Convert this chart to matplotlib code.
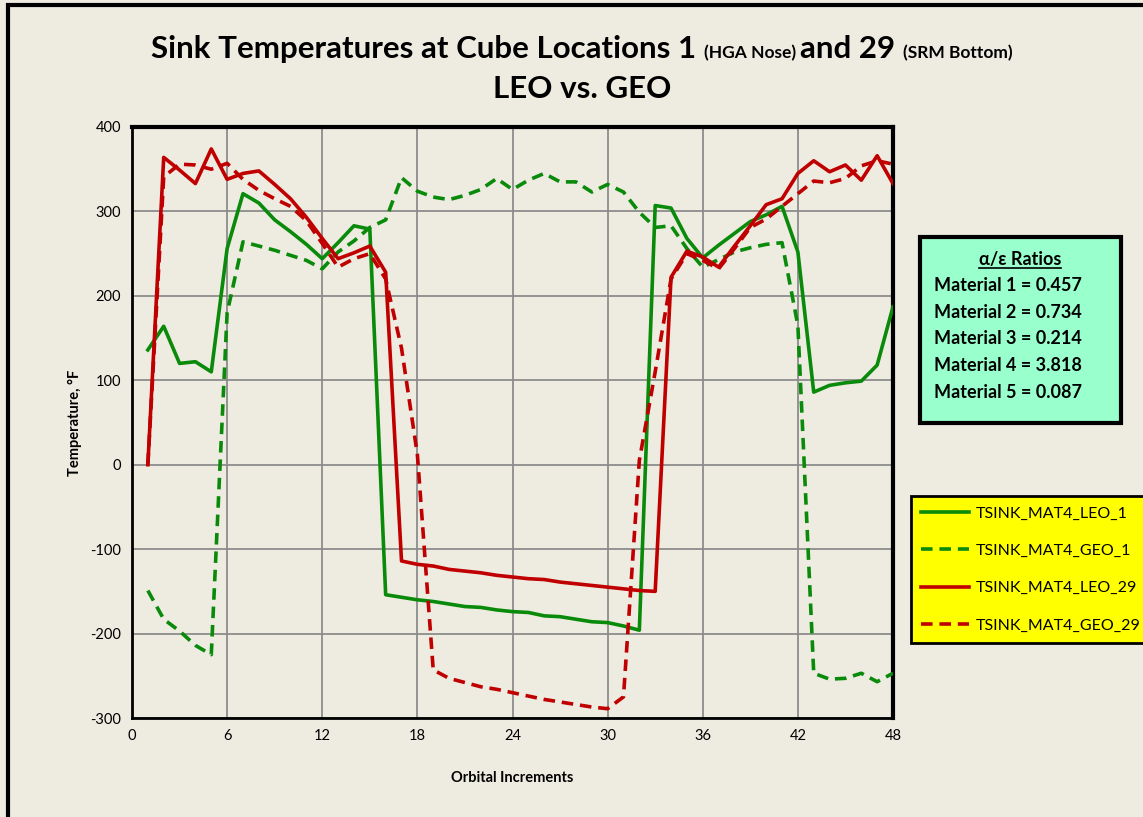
import numpy as np
import matplotlib
matplotlib.use('Agg')
import matplotlib.pyplot as plt
from matplotlib.patches import Rectangle
from matplotlib.lines import Line2D

plt.rcParams['font.family'] = ['Lato', 'DejaVu Sans']
plt.rcParams['axes.unicode_minus'] = False

# orbital increments and sink temperatures (deg F)
increments = np.arange(1, 49)
leo_1 = [136, 164, 120, 122, 110, 256, 321, 310, 290, 276, 261, 244, 263, 283, 279, -154,
         -157, -160, -162, -165, -168, -169, -172, -174, -175, -179, -180, -183, -186, -187, -191, -196,
         307, 304, 268, 245, 260, 274, 288, 296, 306, 252, 86, 94, 97, 99, 118, 187]
geo_1 = [-149, -183, -197, -214, -225, 180, 264, 259, 254, 248, 242, 232, 252, 265, 281, 290,
         340, 324, 317, 314, 319, 326, 339, 326, 337, 345, 335, 335, 323, 332, 323, 299,
         281, 283, 256, 234, 243, 252, 257, 261, 263, 165, -247, -254, -253, -247, -257, -247]
leo_29 = [0, 364, 349, 333, 374, 338, 345, 348, 332, 315, 293, 268, 244, 251, 259, 228,
          -114, -118, -120, -124, -126, -128, -131, -133, -135, -136, -139, -141, -143, -145, -147, -149,
          -150, 222, 253, 246, 234, 259, 283, 308, 315, 345, 360, 347, 355, 337, 366, 333]
geo_29 = [0, 341, 356, 355, 350, 357, 338, 325, 315, 306, 289, 262, 234, 244, 250, 220,
          138, 12, -243, -253, -258, -263, -266, -270, -274, -278, -281, -284, -287, -289, -275, 5,
          110, 220, 250, 242, 232, 256, 281, 291, 306, 321, 336, 334, 339, 354, 360, 356]

series_names = ['TSINK_MAT4_LEO_1', 'TSINK_MAT4_GEO_1', 'TSINK_MAT4_LEO_29', 'TSINK_MAT4_GEO_29']
ratio_labels = ['Material 1 = 0.457', 'Material 2 = 0.734', 'Material 3 = 0.214',
                'Material 4 = 3.818', 'Material 5 = 0.087']

W, H = 1143, 817
bg = '#EEECE1'
green = '#0A8A0A'
red = '#C00000'

fig = plt.figure(figsize=(W / 100, H / 100), dpi=100, facecolor=bg)
ax = fig.add_axes([132 / W, 1 - 718 / H, (893 - 132) / W, (718 - 127) / H])
ax.set_facecolor(bg)

lw = 2.6
dash = (3.2, 1.9)
ax.plot(increments, leo_1, color=green, lw=lw, label=series_names[0], zorder=3)
ax.plot(increments, geo_1, color=green, lw=lw, dashes=dash, label=series_names[1], zorder=3)
ax.plot(increments, leo_29, color=red, lw=lw, label=series_names[2], zorder=4)
ax.plot(increments, geo_29, color=red, lw=lw, dashes=dash, label=series_names[3], zorder=4)

ax.set_xlim(0, 48)
ax.set_ylim(-300, 400)
ax.set_xticks(np.arange(0, 49, 6))
ax.set_yticks(np.arange(-300, 401, 100))
ax.grid(True, color='#8C8C8C', lw=1.3, zorder=0)
ax.set_axisbelow(True)
ax.tick_params(length=0, labelsize=10.5, pad=8, colors='black')
for s in ax.spines.values():
    s.set_color('black')
    s.set_linewidth(2)
ax.spines['top'].set_linewidth(3)
ax.spines['right'].set_linewidth(3)

ax.set_xlabel('Orbital Increments', fontsize=10.5, fontweight='bold', labelpad=20)
ax.set_ylabel('Temperature, °F', fontsize=10.5, fontweight='bold', labelpad=6)

# outer chart border
fig.patches.append(Rectangle((8 / W, -0.02), 1.05, 1 - 5 / H + 0.02, transform=fig.transFigure,
                             fill=False, edgecolor='black', lw=3))

# title with mixed font sizes
renderer = fig.canvas.get_renderer()
pieces = [('Sink Temperatures at Cube Locations 1 ', 22.5), ('(HGA Nose) ', 12.5),
          ('and 29 ', 22.5), ('(SRM Bottom)', 12.5)]
texts = []
for s, fs in pieces:
    t = fig.text(0, 1 - 58 / H, s, fontsize=fs, fontweight='bold', ha='left', va='baseline')
    texts.append(t)
widths = [t.get_window_extent(renderer).width for t in texts]
x0 = 582 - sum(widths) / 2
for t, w in zip(texts, widths):
    t.set_x(x0 / W)
    x0 += w
fig.text(582 / W, 1 - 98 / H, 'LEO vs. GEO', fontsize=22.5, fontweight='bold',
         ha='center', va='baseline')

# alpha/epsilon ratio box
fig.patches.append(Rectangle((920 / W, 1 - 423 / H), 201 / W, 186 / H, transform=fig.transFigure,
                             facecolor='#99FFCC', edgecolor='black', lw=3, zorder=5))
ht = fig.text(1020 / W, 1 - 265 / H, 'α/ε Ratios', fontsize=13, fontweight='bold',
              ha='center', va='baseline', zorder=6)
bb = ht.get_window_extent(renderer)
fig.lines.append(Line2D([bb.x0 / W, bb.x1 / W], [(H - 268) / H] * 2, transform=fig.transFigure,
                        color='black', lw=1.2, zorder=6))
for i, s in enumerate(ratio_labels):
    fig.text(934 / W, 1 - (291 + i * 26.7) / H, s, fontsize=13, fontweight='bold',
             ha='left', va='baseline', zorder=6)

# legend
leg = fig.legend(loc='upper left', bbox_to_anchor=(911 / W, 1 - 496 / H), fontsize=11.5,
                 frameon=True, fancybox=False, facecolor='#FFFF00', edgecolor='black',
                 framealpha=1, handlelength=3.0, handletextpad=0.4, labelspacing=1.45,
                 borderpad=0.65, borderaxespad=0)
leg.get_frame().set_linewidth(2)

fig.savefig('out.png', dpi=100, facecolor=bg)
